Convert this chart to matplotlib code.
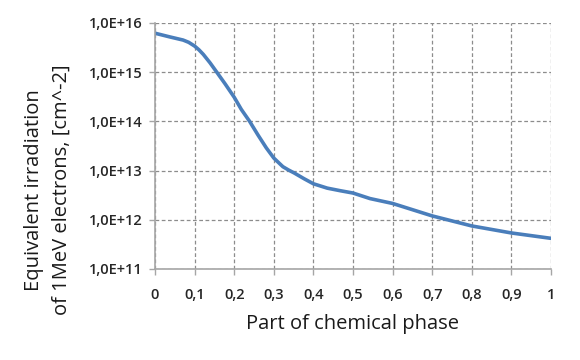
import matplotlib
matplotlib.use("Agg")
import matplotlib.pyplot as plt
from matplotlib.ticker import FixedLocator, FixedFormatter, NullLocator

x_vals = [0.0, 0.038, 0.071, 0.085, 0.1, 0.111, 0.122, 0.139, 0.156, 0.177, 0.2, 0.218,
          0.239, 0.26, 0.281, 0.3, 0.311, 0.323, 0.337, 0.352, 0.377, 0.4, 0.435, 0.468,
          0.5, 0.543, 0.6, 0.7, 0.8, 0.9, 1.0]
y_vals = [6.2e15, 5.2e15, 4.5e15, 4.05e15, 3.4e15, 2.85e15, 2.3e15, 1.55e15, 1.0e15,
          5.8e14, 3.1e14, 1.75e14, 1.0e14, 5.3e13, 2.9e13, 1.8e13, 1.48e13, 1.2e13,
          1.03e13, 8.9e12, 6.8e12, 5.4e12, 4.4e12, 3.9e12, 3.5e12, 2.7e12, 2.15e12,
          1.2e12, 7.5e11, 5.4e11, 4.2e11]

x_ticks = [0, 0.1, 0.2, 0.3, 0.4, 0.5, 0.6, 0.7, 0.8, 0.9, 1.0]
x_tick_labels = ["0", "0,1", "0,2", "0,3", "0,4", "0,5", "0,6", "0,7", "0,8", "0,9", "1"]
y_ticks = [1e11, 1e12, 1e13, 1e14, 1e15, 1e16]
y_tick_labels = ["1,0E+11", "1,0E+12", "1,0E+13", "1,0E+14", "1,0E+15", "1,0E+16"]

plt.rcParams['font.family'] = ['Open Sans', 'DejaVu Sans']

fig = plt.figure(figsize=(5.8, 3.6), dpi=100)
ax = fig.add_axes([155/580, 1-269/360, (551-155)/580, (269-23)/360])

ax.plot(x_vals, y_vals, color='#4A7EBB', lw=2.6, solid_capstyle='round',
        solid_joinstyle='round')
ax.set_yscale('log')
ax.set_xlim(0, 1)
ax.set_ylim(1e11, 1e16)

ax.xaxis.set_major_locator(FixedLocator(x_ticks))
ax.xaxis.set_major_formatter(FixedFormatter(x_tick_labels))
ax.yaxis.set_major_locator(FixedLocator(y_ticks))
ax.yaxis.set_major_formatter(FixedFormatter(y_tick_labels))
ax.yaxis.set_minor_locator(NullLocator())

ax.grid(True, which='major', color='#8C8C8C', linestyle=(0, (3, 2)), lw=0.9)
for s in ['top', 'right']:
    ax.spines[s].set_visible(False)
for s in ['left', 'bottom']:
    ax.spines[s].set_color('#A6A6A6')
    ax.spines[s].set_linewidth(1.2)
ax.tick_params(axis='both', direction='out', length=4, color='#A6A6A6', width=1,
               labelsize=10.5)
ax.tick_params(axis='x', pad=10)
ax.tick_params(axis='y', pad=5)
for lab in ax.get_xticklabels() + ax.get_yticklabels():
    lab.set_fontweight('semibold')
    lab.set_color('#262626')

ax.set_xlabel("Part of chemical phase", fontsize=14.5, color='#1a1a1a', labelpad=8)
ax.set_ylabel("Equivalent irradiation\nof 1MeV electrons, [cm^-2]", fontsize=14.5,
              color='#1a1a1a', linespacing=1.55)
ax.yaxis.set_label_coords((72 - 155) / 396, (269 - 190) / 246)

fig.savefig("out.png", dpi=100)
